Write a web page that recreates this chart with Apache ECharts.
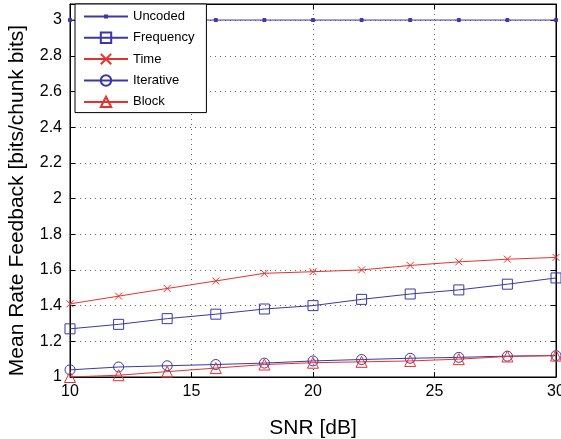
<!DOCTYPE html>
<html>
<head>
<meta charset="utf-8">
<script src="https://cdn.jsdelivr.net/npm/echarts@6/dist/echarts.min.js"></script>
<style>
  html, body { margin: 0; padding: 0; background: #fff; }
  #main { width: 561px; height: 439px; }
</style>
</head>
<body>
<div id="main"></div>
<script>
// SNR points (dB)
var snr = [10, 12, 14, 16, 18, 20, 22, 24, 26, 28, 30]

// mean rate feedback
var uncoded   = [3, 3, 3, 3, 3, 3, 3, 3, 3, 3, 3]
var frequency = [1.27, 1.295, 1.327, 1.352, 1.381, 1.40, 1.435, 1.465, 1.488, 1.52, 1.555]
var time      = [1.41, 1.453, 1.496, 1.538, 1.581, 1.59, 1.60, 1.625, 1.645, 1.66, 1.67]
var iterative = [1.04, 1.056, 1.063, 1.07, 1.078, 1.09, 1.098, 1.105, 1.11, 1.117, 1.12]
var block     = [1.0, 1.01, 1.03, 1.05, 1.07, 1.08, 1.085, 1.09, 1.10, 1.115, 1.12]

var blue = '#3b38a6'
var red = '#e8312c'

function pairs(ys) {
  return snr.map(function (x, i) { return [x, ys[i]] })
}

function line(name, ys, color, symbol, size, fill) {
  return {
    name: name,
    type: 'line',
    data: pairs(ys),
    symbol: symbol,
    symbolSize: size,
    showAllSymbol: true,
    lineStyle: { color: color, width: 1 },
    itemStyle: { color: fill, borderColor: color, borderWidth: 1 },
    emphasis: { disabled: true },
    animation: false
  }
}

// the "x" marker drawn as a path
var cross = 'path://M0,0L10,10M10,0L0,10'

var myChart = echarts.init(document.getElementById('main'))

var frameAxis = {
  type: 'value',
  axisLine: { lineStyle: { color: '#000' } },
  axisTick: { inside: true, length: 5, lineStyle: { color: '#000' } },
  axisLabel: { show: false },
  splitLine: { show: false }
}

var option = {
  backgroundColor: '#fff',
  textStyle: { fontFamily: 'Liberation Sans, Arial, sans-serif' },
  grid: {
    left: 70, right: 5, top: 4, bottom: 62,
    outerBoundsMode: 'none',
    show: true, borderColor: '#000', borderWidth: 1
  },
  legend: {
    orient: 'vertical',
    left: 75, top: 4,
    backgroundColor: '#fff',
    borderColor: '#000', borderWidth: 1,
    padding: [5, 12, 3, 8],
    itemWidth: 44, itemHeight: 13, itemGap: 6,
    textStyle: { fontSize: 13, color: '#000', lineHeight: 15 },
    data: [
      { name: 'Uncoded', icon: 'path://M0,5H44M21,4H23V6H21Z' },
      'Frequency', 'Time', 'Iterative', 'Block'
    ]
  },
  xAxis: [{
    type: 'value',
    min: 10, max: 30, interval: 5,
    name: 'SNR [dB]',
    nameLocation: 'middle', nameGap: 41,
    nameTextStyle: { fontSize: 21, color: '#000' },
    axisLine: { lineStyle: { color: '#000' } },
    axisTick: { inside: true, length: 5, lineStyle: { color: '#000' } },
    axisLabel: { fontSize: 16, color: '#000', margin: 7 },
    splitLine: { show: true, lineStyle: { color: '#666', type: [1, 4] } }
  }, Object.assign({}, frameAxis, { position: 'top', min: 10, max: 30, interval: 5 })],
  yAxis: [{
    type: 'value',
    min: 1, max: 3.09, interval: 0.2,
    name: 'Mean Rate Feedback [bits/chunk bits]',
    nameLocation: 'middle', nameGap: 42,
    nameTextStyle: { fontSize: 21, color: '#000', padding: [0, 20, 0, 0] },
    axisLine: { lineStyle: { color: '#000' } },
    axisTick: { inside: true, length: 5, lineStyle: { color: '#000' } },
    axisLabel: { fontSize: 16, color: '#000', margin: 8, showMaxLabel: false,
      formatter: function (v) { return +v.toFixed(1) + '' } },
    splitLine: { show: true, lineStyle: { color: '#666', type: [1, 4] } }
  }, Object.assign({}, frameAxis, { position: 'right', min: 1, max: 3.09, interval: 0.2 })],
  series: [
    line('Uncoded', uncoded, blue, 'rect', 3, blue),
    line('Frequency', frequency, blue, 'rect', 10, 'none'),
    line('Time', time, red, cross, 7, 'none'),
    line('Iterative', iterative, blue, 'circle', 10, 'none'),
    line('Block', block, red, 'triangle', 11, 'none')
  ]
}

myChart.setOption(option)
</script>
</body>
</html>
